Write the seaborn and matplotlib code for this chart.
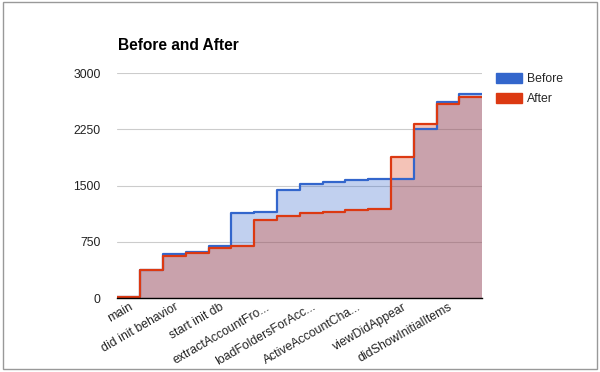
import matplotlib
matplotlib.use("Agg")
import matplotlib.pyplot as plt
import matplotlib.patches as mpatches
import numpy as np
import pandas as pd
import seaborn as sns

# step values, 16 steps
before = [15, 375, 595, 620, 702, 1142, 1155, 1444, 1524, 1551, 1573, 1590, 1595, 2249, 2613, 2723]
after = [15, 375, 568, 605, 675, 697, 1040, 1102, 1137, 1155, 1177, 1195, 1884, 2315, 2590, 2675]
# only every other step is labelled on the axis
tick_labels = ["main", "did init behavior", "start init db", "extractAccountFro...",
               "loadFoldersForAcc...", "ActiveAccountCha...", "viewDidAppear", "didShowInitialItems"]
y_ticks = [0, 750, 1500, 2250, 3000]

BLUE = "#3366cc"
RED = "#dc3912"


def main():
    sns.set_theme(style="white")
    plt.rcParams['font.family'] = ['Liberation Sans', 'DejaVu Sans']

    n = len(before)
    edges = np.arange(n + 1)
    df = pd.DataFrame({
        "x": np.concatenate([edges, edges]),
        "value": before + [before[-1]] + after + [after[-1]],
        "series": ["Before"] * (n + 1) + ["After"] * (n + 1),
    })

    fig = plt.figure(figsize=(6, 3.72), dpi=100)
    ax = fig.add_axes([117.3 / 600, 1 - 298.3 / 372, 365 / 600, 225.3 / 372])

    for name, color in [("Before", BLUE), ("After", RED)]:
        sub = df[df.series == name]
        ax.fill_between(sub.x, sub.value, step="post", color=color, alpha=0.3, linewidth=0)
    sns.lineplot(data=df, x="x", y="value", hue="series", palette={"Before": BLUE, "After": RED},
                 drawstyle="steps-post", linewidth=1.6, legend=False, ax=ax, zorder=3)

    ax.set_xlim(0, n)
    ax.set_ylim(0, 3000)
    ax.set_yticks(y_ticks)
    ax.set_yticklabels([str(v) for v in y_ticks], fontsize=8.8, color="#222222")
    ax.yaxis.grid(True, color="#cccccc", linewidth=0.8)
    ax.set_axisbelow(True)
    ax.set_xticks(np.arange(0, n, 2) + 0.5)
    ax.set_xticklabels(tick_labels, rotation=30, ha="right", va="top", rotation_mode="anchor",
                       fontsize=8.8, color="#222222")
    ax.tick_params(axis="y", length=0, pad=12)
    ax.tick_params(axis="x", length=0, pad=2)
    ax.set_xlabel("")
    ax.set_ylabel("")
    for s in ["top", "right", "left"]:
        ax.spines[s].set_visible(False)
    ax.spines["bottom"].set_color("black")
    ax.spines["bottom"].set_linewidth(1.0)
    ax.spines["bottom"].set_zorder(4)

    fig.text(118 / 600, 1 - 46 / 372, "Before and After", fontsize=11.2, fontweight="bold",
             va="center", ha="left", color="black")

    handles = [mpatches.Patch(color=BLUE, label="Before"), mpatches.Patch(color=RED, label="After")]
    fig.legend(handles=handles, loc="upper left", bbox_to_anchor=(491 / 600, 1 - 68 / 372),
               frameon=False, fontsize=8.8, handlelength=2.1, handleheight=0.95,
               handletextpad=0.45, labelspacing=0.6, borderaxespad=0)

    # chart border
    fig.patches.append(mpatches.Rectangle((3.3 / 600, 1 - 369 / 372), 593.4 / 600, 367 / 372,
                                          transform=fig.transFigure, fill=False,
                                          edgecolor="#999999", linewidth=1.0))

    fig.savefig("out.png", dpi=100)


if __name__ == "__main__":
    main()
